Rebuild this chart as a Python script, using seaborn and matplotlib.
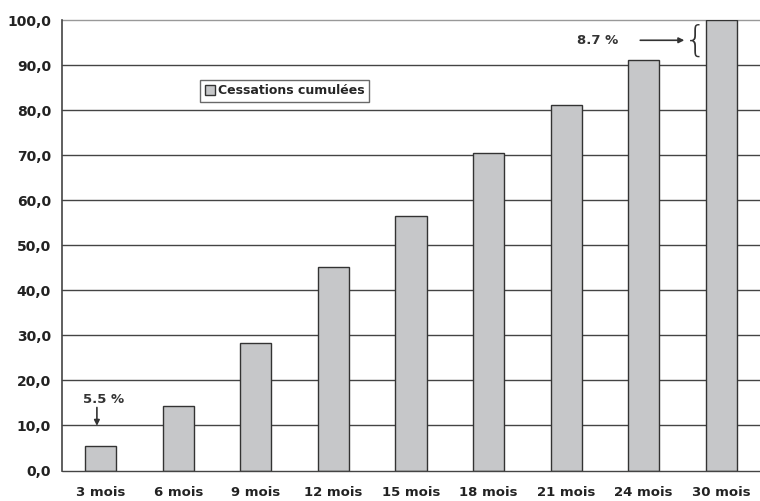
import matplotlib
matplotlib.use("Agg")
import matplotlib.pyplot as plt
import seaborn as sns
import pandas as pd
from matplotlib.patches import Patch
from matplotlib.ticker import FuncFormatter, FixedLocator

periods = ["3 mois", "6 mois", "9 mois", "12 mois", "15 mois", "18 mois", "21 mois", "24 mois", "30 mois"]
cumul = [5.5, 14.4, 28.3, 45.1, 56.5, 70.4, 81.1, 91.2, 99.9]
series_name = "Cessations cumulées"
yticks = [0, 10, 20, 30, 40, 50, 60, 70, 80, 90, 100]

df = pd.DataFrame({"period": periods, "value": cumul, "series": series_name})

sns.set_style("white")
plt.rcParams["font.family"] = ["DejaVu Sans"]

fig = plt.figure(figsize=(7.6, 5.01), dpi=100)
ax = fig.add_axes([62 / 760, 1 - 470.5 / 501, 698 / 760, 450.5 / 501])

sns.barplot(data=df, x="period", y="value", color="#c6c7c9", saturation=1,
            width=0.4, edgecolor="#333333", linewidth=1.0, ax=ax, zorder=3)

ax.set_ylim(0, 100)
ax.set_xlim(-0.5, len(periods) - 0.5)
ax.set_yticks(yticks)
ax.yaxis.set_major_formatter(FuncFormatter(lambda v, p: f"{v:.1f}".replace(".", ",")))
for y in yticks:
    ax.axhline(y, color="#444444" if y < 100 else "#999999", lw=1.0, zorder=1 if y > 0 else 4,
               clip_on=False)

ax.set_xlabel("")
ax.set_ylabel("")
for s in ["top", "right", "bottom"]:
    ax.spines[s].set_visible(False)
ax.spines["left"].set_color("#444444")
ax.spines["left"].set_linewidth(1.2)

ax.tick_params(axis="y", which="major", length=5, width=1, color="#555555",
               labelsize=10, pad=3)
ax.tick_params(axis="x", which="major", length=0, labelsize=9.5, pad=11)
ax.xaxis.set_minor_locator(FixedLocator([i - 0.5 for i in range(len(periods) + 1)]))
ax.tick_params(axis="x", which="minor", length=5, width=1, color="#555555", direction="out")
for lab in ax.get_xticklabels() + ax.get_yticklabels():
    lab.set_fontweight("bold")
    lab.set_color("#222222")

leg = ax.legend(handles=[Patch(facecolor="#c6c7c9", edgecolor="#333333", label=series_name)],
                loc="upper left", bbox_to_anchor=(0.198, 0.867), borderaxespad=0,
                frameon=True, fancybox=False,
                handlelength=0.8, handleheight=0.8, handletextpad=0.3, borderpad=0.35,
                prop={"weight": "bold", "size": 9})
leg.get_frame().set_edgecolor("#444444")
leg.get_frame().set_linewidth(1.0)

ax.annotate("", xy=(-0.05, 9.3), xytext=(-0.05, 14.6),
            arrowprops=dict(arrowstyle="-|>", color="#333333", lw=1.2, mutation_scale=8), zorder=5)
ax.text(0.04, 15.8, "5.5 %", ha="center", va="center", fontsize=9.5, fontweight="bold", color="#333333")

ax.annotate("", xy=(7.56, 95.5), xytext=(6.92, 95.5),
            arrowprops=dict(arrowstyle="-|>", color="#333333", lw=1.2, mutation_scale=8), zorder=5)
ax.text(6.4, 95.5, "8.7 %", ha="center", va="center", fontsize=9.5, fontweight="bold", color="#333333")
ax.text(7.665, 95.5, "{", ha="center", va="center", fontsize=26, fontweight="light",
        color="#333333", zorder=5)

fig.savefig("out.png", dpi=100)
